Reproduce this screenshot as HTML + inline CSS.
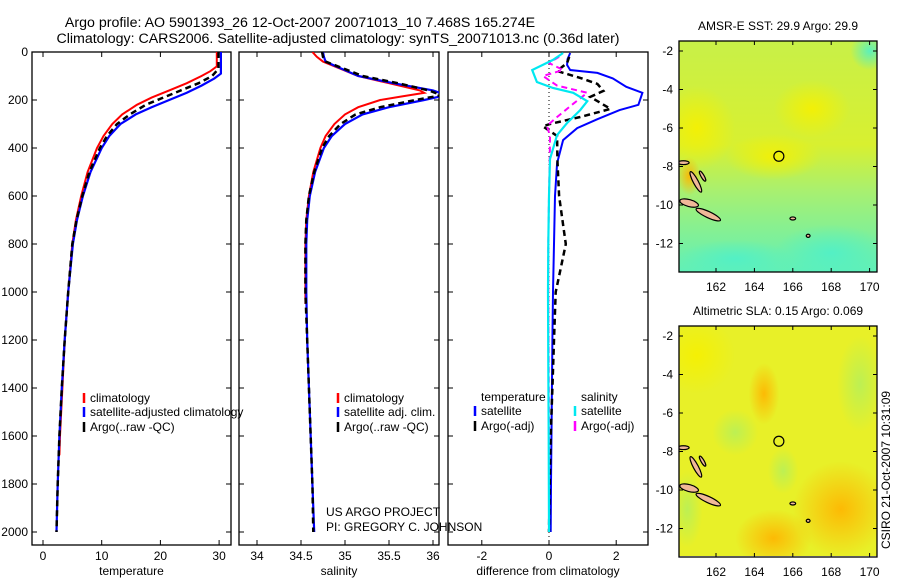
<!DOCTYPE html>
<html><head><meta charset="utf-8">
<style>
html,body{margin:0;padding:0;background:#fff;}
svg{display:block;font-family:"Liberation Sans",sans-serif;}
text{font-size:12px;fill:#000;}
</style></head>
<body>
<svg id="fig" width="900" height="580" viewBox="0 0 900 580" xmlns="http://www.w3.org/2000/svg">
<defs>
<clipPath id="c1"><rect x="32" y="52" width="199" height="493"/></clipPath>
<clipPath id="c2"><rect x="239" y="52" width="200" height="493"/></clipPath>
<clipPath id="c3"><rect x="448" y="52" width="200" height="493"/></clipPath>
<clipPath id="cm1"><rect x="679" y="41" width="198" height="231"/></clipPath>
<clipPath id="cm2"><rect x="679" y="326" width="198" height="230"/></clipPath>
<radialGradient id="g1" cx="0.5" cy="0.5" r="0.5"><stop offset="0" stop-color="#f6f000" stop-opacity="0.9"/><stop offset="1" stop-color="#f6f000" stop-opacity="0"/></radialGradient>
<radialGradient id="g2" cx="0.5" cy="0.5" r="0.5"><stop offset="0" stop-color="#50f0c8" stop-opacity="0.9"/><stop offset="1" stop-color="#50f0c8" stop-opacity="0"/></radialGradient>
<radialGradient id="g3" cx="0.5" cy="0.5" r="0.5"><stop offset="0" stop-color="#ffb400" stop-opacity="0.9"/><stop offset="1" stop-color="#ffb400" stop-opacity="0"/></radialGradient>
<radialGradient id="g4" cx="0.5" cy="0.5" r="0.5"><stop offset="0" stop-color="#b8f058" stop-opacity="0.9"/><stop offset="1" stop-color="#b8f058" stop-opacity="0"/></radialGradient>
<linearGradient id="lg1" x1="0" y1="0" x2="0" y2="1"><stop offset="0" stop-color="#c8f048"/><stop offset="0.45" stop-color="#d8f030"/><stop offset="0.65" stop-color="#a8f070"/><stop offset="1" stop-color="#60f0b8"/></linearGradient>
</defs>

<text x="300" y="27" text-anchor="middle" style="font-size:14.2px">Argo profile: AO 5901393_26 12-Oct-2007 20071013_10 7.468S 165.274E</text>
<text x="338" y="43" text-anchor="middle" style="font-size:14.2px">Climatology: CARS2006. Satellite-adjusted climatology: synTS_20071013.nc (0.36d later)</text>

<g id="p1"></g>
<g id="p2"></g>
<g id="p3"></g>
<g id="m1"></g>
<g id="m2"></g>

<text x="890" y="470" text-anchor="middle" transform="rotate(-90 890 470)">CSIRO 21-Oct-2007 10:31:09</text>
</svg>
<script>
// ---- data ----
const depthTicks=[0,200,400,600,800,1000,1200,1400,1600,1800,2000];
const tempTicks=[0,10,20,30];
const salTicks=[34,34.5,35,35.5,36];
const salTickLabels=["34","34.5","35","35.5","36"];
const diffTicks=[-2,0,2];

const tempClimDepth=[0,60,80,100,130,160,190,220,260,300,350,400,500,600,700,800,1000,1200,1400,1600,1680];
const tempClimVal=[29.6,29.6,28.5,27,24.5,21.5,18.5,16,13.5,11.8,10.3,9.2,7.6,6.5,5.6,5.0,4.3,3.7,3.3,2.9,2.8];
const tempSatDepth=[0,90,110,140,170,200,230,260,300,350,400,500,600,700,800,1000,1200,1400,1600,1800,2000];
const tempSatVal=[30.3,30.3,29.2,27,24.5,21.5,18.5,15.8,13.2,11.3,10,8.1,6.8,5.8,5.1,4.3,3.7,3.2,2.8,2.5,2.3];
const tempArgoDepth=[0,70,100,130,160,190,220,260,300,350,400,500,600,700,800,1000,1200,1400,1600,1800,2000];
const tempArgoVal=[29.9,29.9,28.8,26.5,23.5,20.5,17.5,14.8,12.6,10.9,9.7,7.9,6.7,5.7,5.0,4.3,3.7,3.2,2.8,2.5,2.3];

const salClimDepth=[0,20,40,70,100,130,160,170,185,200,230,260,300,350,400,500,600,700,800,1000,1050];
const salClimVal=[34.63,34.68,34.75,34.95,35.15,35.5,35.85,35.9,35.65,35.4,35.15,35.0,34.88,34.78,34.72,34.64,34.59,34.56,34.55,34.55,34.55];
const salSatDepth=[0,20,40,60,100,130,160,180,200,230,260,300,350,400,500,600,700,800,1000,1200,1500,1800,2000];
const salSatVal=[34.75,34.76,34.78,34.9,35.15,35.55,36.0,36.15,35.9,35.5,35.2,35.0,34.85,34.76,34.66,34.6,34.57,34.56,34.56,34.57,34.6,34.63,34.65];
const salArgoDepth=[0,20,40,60,100,130,160,180,200,230,260,300,350,400,500,600,700,800,1000,1200,1500,1800,2000];
const salArgoVal=[34.74,34.75,34.78,34.92,35.2,35.6,35.95,36.1,35.8,35.4,35.12,34.95,34.82,34.74,34.65,34.59,34.56,34.55,34.55,34.57,34.6,34.63,34.64];

const dTempSatDepth=[4,30,54,75,87,110,145,170,220,242,280,317,367,463,600,800,1000,1200,1500,1800,2000];
const dTempSatVal=[0.63,0.55,0.54,0.63,1.44,1.9,2.3,2.78,2.66,2.1,1.44,0.84,0.42,0.24,0.18,0.15,0.12,0.1,0.08,0.06,0.05];
const dSalSatDepth=[4,33,75,125,150,170,205,242,296,346,446,600,800,1000,1300,1600,2000];
const dSalSatVal=[0.42,0.12,-0.5,-0.36,0.12,0.72,1.14,0.93,0.54,0.24,0.03,0.0,-0.02,-0.03,-0.02,-0.01,0.0];
const dTempArgoDepth=[20,46,79,108,133,162,187,237,271,300,310,350,450,600,750,800,900,1000,1200,1400,1600,1800,2000];
const dTempArgoVal=[0.6,0.54,0.24,0.93,1.44,1.62,1.23,1.83,0.93,0.03,-0.18,0.24,0.25,0.3,0.45,0.5,0.35,0.2,0.15,0.1,0.05,0.02,0.0];
const dSalArgoDepth=[20,46,75,100,140,170,216,271,308,350,450,600,800,1000,1300,1600,2000];
const dSalArgoVal=[0.3,0.0,0.42,-0.18,0.24,1.14,0.72,0.24,-0.06,0.03,0.02,0.0,-0.02,-0.02,-0.01,0.0,0.0];

const lonTicks=[162,164,166,168,170];
const latTicks=[-2,-4,-6,-8,-10,-12];
const floatLon=165.274, floatLat=-7.468;

// ---- scales ----
const yD=d=>52+d*0.24;
const xT=v=>43+v*5.87;
const xS=v=>257+(v-34)*88;
const xDf=v=>549+v*33.6;
const NS="http://www.w3.org/2000/svg";
function el(tag,attrs,parent){const e=document.createElementNS(NS,tag);for(const k in attrs)e.setAttribute(k,attrs[k]);parent.appendChild(e);return e;}
function poly(parent,ds,vs,xf,color,w,dash,clip,name){
  const pts=ds.map((d,i)=>xf(vs[i]).toFixed(1)+","+yD(d).toFixed(1)).join(" ");
  const p=el("polyline",{points:pts,fill:"none",stroke:color,"stroke-width":w,"clip-path":"url(#"+clip+")"},parent);
  if(dash)p.setAttribute("stroke-dasharray",dash);
  
  
}
function frame(g,x0,x1,ticks,labels,xf,xlabel,showY,name){
  const r=el("rect",{x:x0,y:52,width:x1-x0,height:493,fill:"none",stroke:"#000","stroke-width":1.3},g);
  
  
  ticks.forEach((t,i)=>{const x=xf(t);
    el("line",{x1:x,y1:52,x2:x,y2:57,stroke:"#000"},g);
    el("line",{x1:x,y1:545,x2:x,y2:540,stroke:"#000"},g);
    const tx=el("text",{x:x,y:560,"text-anchor":"middle"},g);tx.textContent=labels[i];
    
    
  });
  depthTicks.forEach(d=>{const y=yD(d);
    el("line",{x1:x0,y1:y,x2:x0+5,y2:y,stroke:"#000"},g);
    el("line",{x1:x1,y1:y,x2:x1-5,y2:y,stroke:"#000"},g);
    if(showY){const tx=el("text",{x:28,y:y+4,"text-anchor":"end"},g);tx.textContent=d;
      
      }
  });
  const xl=el("text",{x:(x0+x1)/2,y:575,"text-anchor":"middle"},g);xl.textContent=xlabel;
  
  
}
function legend(g,x,y,color,label,name){
  if(color){const b=el("line",{x1:x,y1:y-9,x2:x,y2:y+1,stroke:color,"stroke-width":2.5},g);
    
    }
  const t=el("text",{x:x+6,y:y},g);t.textContent=label;
  
  
}
// panel 1
const p1=document.getElementById("p1");
frame(p1,32,231,tempTicks,tempTicks.map(String),xT,"temperature",true,"temperature");
poly(p1,tempClimDepth,tempClimVal,xT,"#ff0000",2,null,"c1","temp-climatology-line");
poly(p1,tempSatDepth,tempSatVal,xT,"#0000ff",2.2,null,"c1","temp-satellite-line");
poly(p1,tempArgoDepth,tempArgoVal,xT,"#000",2.5,"6,4","c1","temp-argo-line");
legend(p1,84,402,"#ff0000","climatology","legend-climatology");
legend(p1,84,416,"#0000ff","satellite-adjusted climatology","legend-satellite");
legend(p1,84,431,"#000","Argo(..raw -QC)","legend-argo");
// panel 2
const p2=document.getElementById("p2");
frame(p2,239,439,salTicks,salTickLabels,xS,"salinity",false,"salinity");
poly(p2,salClimDepth,salClimVal,xS,"#ff0000",2,null,"c2","sal-climatology-line");
poly(p2,salSatDepth,salSatVal,xS,"#0000ff",2.2,null,"c2","sal-satellite-line");
poly(p2,salArgoDepth,salArgoVal,xS,"#000",2.5,"6,4","c2","sal-argo-line");
legend(p2,338,402,"#ff0000","climatology","legend-climatology-2");
legend(p2,338,416,"#0000ff","satellite adj. clim.","legend-satellite-2");
legend(p2,338,431,"#000","Argo(..raw -QC)","legend-argo-2");
const a1=el("text",{x:326,y:516},p2);a1.textContent="US ARGO PROJECT";


const a2=el("text",{x:326,y:531},p2);a2.textContent="PI: GREGORY C. JOHNSON";


// panel 3
const p3=document.getElementById("p3");
frame(p3,448,648,diffTicks,diffTicks.map(String),xDf,"difference from climatology",false,"difference");
const zl=el("line",{x1:xDf(0),y1:52,x2:xDf(0),y2:545,stroke:"#000","stroke-dasharray":"1,3"},p3);


poly(p3,dTempSatDepth,dTempSatVal,xDf,"#0000ff",2,null,"c3","diff-temp-satellite-line");
poly(p3,dTempArgoDepth,dTempArgoVal,xDf,"#000",2.5,"6,4","c3","diff-temp-argo-line");
poly(p3,dSalArgoDepth,dSalArgoVal,xDf,"#ff00ff",2,"6,4","c3","diff-sal-argo-line");
poly(p3,dSalSatDepth,dSalSatVal,xDf,"#00e8f0",2.2,null,"c3","diff-sal-satellite-line");
legend(p3,475,401,null,"temperature","legend-temperature-header");
legend(p3,475,415,"#0000ff","satellite","legend-temp-satellite");
legend(p3,475,430,"#000","Argo(-adj)","legend-temp-argo");
legend(p3,575,401,null,"salinity","legend-salinity-header");
legend(p3,575,415,"#00e8f0","satellite","legend-sal-satellite");
legend(p3,575,430,"#ff00ff","Argo(-adj)","legend-sal-argo");

// maps
const xL=l=>716+(l-162)*19.2;
function map(g,top,title,bg,blobs,clip,name){
  const yL=lat=>top+10+(-2-lat)*19.25;
  const t=el("text",{x:778,y:top-11,"text-anchor":"middle"},g);t.textContent=title;
  
  
  const cg=el("g",{"clip-path":"url(#"+clip+")"},g);
  el("rect",{x:679,y:top,width:198,height:231,fill:bg},cg);
  blobs.forEach(b=>el("ellipse",{cx:xL(b[0]),cy:yL(b[1]),rx:b[2]*19.2,ry:b[3]*19.25,fill:"url(#"+b[4]+")"},cg));
  // islands
  const isl=[[160.95,-8.8,0.6,0.13,62],[160.6,-9.9,0.5,0.18,15],[161.6,-10.5,0.7,0.16,25],[161.3,-8.5,0.3,0.08,60],[166.0,-10.7,0.15,0.08,0],[166.8,-11.6,0.1,0.08,0],[160.3,-7.8,0.3,0.1,0]];
  isl.forEach(s=>{const e=el("ellipse",{cx:xL(s[0]),cy:yL(s[1]),rx:s[2]*19.2,ry:s[3]*19.25,fill:"#f0b898",stroke:"#000","stroke-width":1.2,transform:"rotate("+s[4]+" "+xL(s[0])+" "+yL(s[1])+")"},cg);
    
    });
  const c=el("circle",{cx:xL(floatLon),cy:yL(floatLat),r:5,fill:"none",stroke:"#000","stroke-width":1.2},g);
  
  
  const f=el("rect",{x:679,y:top,width:198,height:231,fill:"none",stroke:"#000","stroke-width":1.3},g);
  
  
  lonTicks.forEach(l=>{const x=xL(l);
    el("line",{x1:x,y1:top,x2:x,y2:top+4,stroke:"#000"},g);
    el("line",{x1:x,y1:top+231,x2:x,y2:top+227,stroke:"#000"},g);
    const tx=el("text",{x:x,y:top+250,"text-anchor":"middle"},g);tx.textContent=l;
    
    });
  latTicks.forEach(l=>{const y=yL(l);
    el("line",{x1:679,y1:y,x2:683,y2:y,stroke:"#000"},g);
    el("line",{x1:877,y1:y,x2:873,y2:y,stroke:"#000"},g);
    const tx=el("text",{x:673,y:y+4,"text-anchor":"end"},g);tx.textContent=l;
    
    });
}
map(document.getElementById("m1"),41,"AMSR-E SST: 29.9 Argo: 29.9","url(#lg1)",
 [[161,-6,2,2.2,"g1"],[167,-5,2,1.5,"g1"],[165,-7.5,2.5,1.2,"g1"],[160.6,-8.5,0.6,1,"g3"],[168,-12.5,3,1.5,"g2"],[163,-12.8,3,1,"g2"],[170,-2,1,1,"g2"]],"cm1","sst-map");
map(document.getElementById("m2"),326,"Altimetric SLA: 0.15 Argo: 0.069","#e8f028",
 [[161,-3,2,2,"g1"],[164.5,-5,0.8,1.6,"g3"],[168.5,-11,2.5,2.5,"g3"],[165,-12.5,2,1.5,"g3"],[169.5,-4.5,1.2,2.5,"g4"],[163,-7,1.2,1.2,"g4"],[165.5,-9,0.8,1.2,"g4"],[160.5,-11,0.8,2,"g4"]],"cm2","sla-map");
</script>
</body></html>
